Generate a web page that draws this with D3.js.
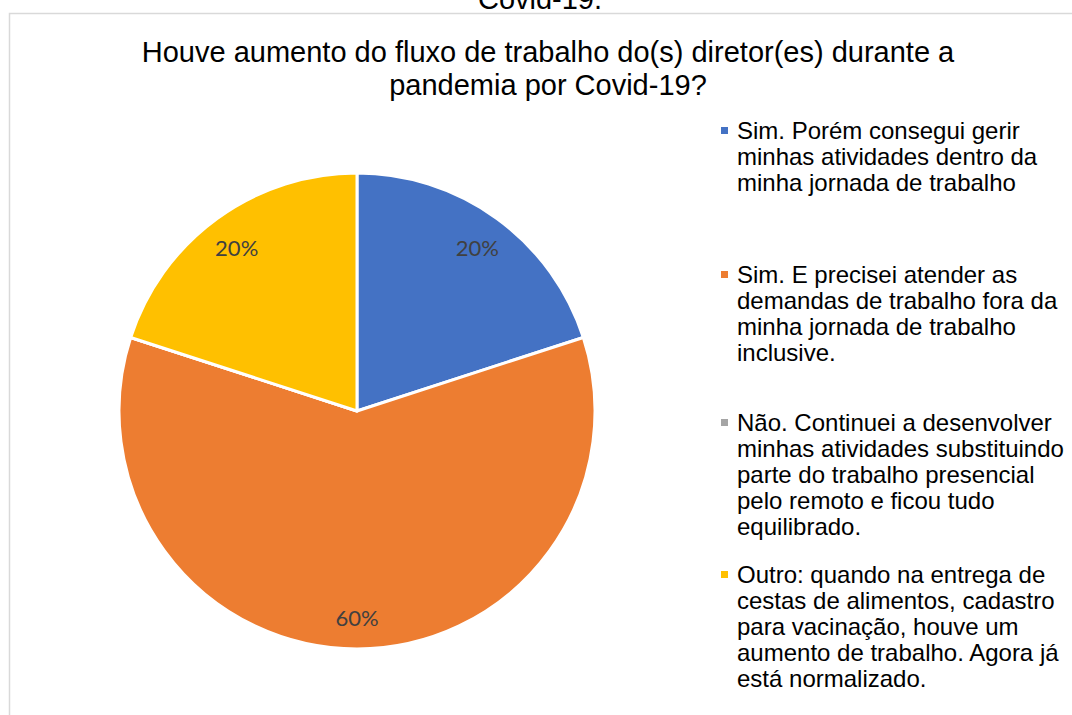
<!DOCTYPE html>
<html>
<head>
<meta charset="utf-8">
<script src="https://cdn.jsdelivr.net/npm/d3@7"></script>
<style>
  body { margin: 0; background: #fff; }
  svg { display: block; font-family: "Liberation Sans", Arial, sans-serif; }
</style>
</head>
<body>
<script>
//chart data
var categories = ["Sim. Porém consegui gerir", "Sim. E precisei atender", "Não. Continuei", "Outro"];
var values = [20, 60, 0, 20];
var colors = ["#4472C4", "#ED7D31", "#A5A5A5", "#FFC000"];
var legendLines = [
    ["Sim. Porém consegui gerir", "minhas atividades dentro da", "minha jornada de trabalho"],
    ["Sim. E precisei atender as", "demandas de trabalho fora da", "minha jornada de trabalho", "inclusive."],
    ["Não. Continuei a desenvolver", "minhas atividades substituindo", "parte do trabalho presencial", "pelo remoto e ficou tudo", "equilibrado."],
    ["Outro: quando na entrega de", "cestas de alimentos, cadastro", "para vacinação, houve um", "aumento de trabalho. Agora já", "está normalizado."]
];
var titleLines = ["Houve aumento do fluxo de trabalho do(s) diretor(es) durante a", "pandemia por Covid-19?"];

var width = 1072, height = 715;

var svg = d3.select("body")
    .append("svg")
    .attr("width", width)
    .attr("height", height);

//cut-off caption above the frame
svg.append("text")
    .attr("x", 540)
    .attr("y", 9)
    .attr("text-anchor", "middle")
    .style("font-size", "29px")
    .text("Covid-19.");

//chart frame
svg.append("rect")
    .attr("x", 9.5)
    .attr("y", 13.5)
    .attr("width", 1100)
    .attr("height", 750)
    .attr("fill", "#fff")
    .attr("stroke", "#d9d9d9")
    .attr("stroke-width", 1.5);

//title
svg.append("text")
    .attr("text-anchor", "middle")
    .style("font-size", "29px")
    .attr("fill", "#000")
    .selectAll("tspan")
    .data(titleLines)
    .enter()
    .append("tspan")
    .attr("x", 548)
    .attr("y", function(d, i){ return 62 + i * 33; })
    .text(function(d){ return d; });

//pie
var cx = 357, cy = 411, radius = 238;

var pie = d3.pie()
    .sort(null)
    .value(function(d){ return d; });

var arc = d3.arc()
    .innerRadius(0)
    .outerRadius(radius);

var labelArc = d3.arc()
    .innerRadius(radius * 0.86)
    .outerRadius(radius * 0.86);

var g = svg.append("g")
    .attr("transform", "translate(" + cx + "," + cy + ")");

var arcs = pie(values);

g.selectAll(".slice")
    .data(arcs)
    .enter()
    .append("path")
    .attr("class", "slice")
    .attr("d", arc)
    .attr("fill", function(d, i){ return colors[i]; })
    .attr("stroke", "#fff")
    .attr("stroke-width", 3)
    .attr("stroke-linejoin", "round");

g.selectAll(".label")
    .data(arcs.filter(function(d){ return d.data > 0; }))
    .enter()
    .append("text")
    .attr("class", "label")
    .attr("transform", function(d){
        var c = labelArc.centroid(d);
        return "translate(" + c[0] + "," + (c[1] + 3) + ")";
    })
    .attr("text-anchor", "middle")
    .attr("dy", "0.35em")
    .attr("fill", "#404040")
    .style("font-family", "Lato, 'Open Sans', sans-serif")
    .style("font-size", "22px")
    .text(function(d){ return d.data + "%"; });

//legend
var legendTops = [131, 275, 423, 575];
var legend = svg.selectAll(".legend")
    .data(legendLines)
    .enter()
    .append("g")
    .attr("class", "legend");

legend.append("rect")
    .attr("x", 721)
    .attr("y", function(d, i){ return legendTops[i] - 4; })
    .attr("width", 7)
    .attr("height", 7)
    .attr("fill", function(d, i){ return colors[i]; });

legend.append("text")
    .style("font-size", "24px")
    .attr("fill", "#000")
    .each(function(lines, i){
        d3.select(this).selectAll("tspan")
            .data(lines)
            .enter()
            .append("tspan")
            .attr("x", 737)
            .attr("y", function(d, j){ return legendTops[i] + 8 + j * 26; })
            .text(function(d){ return d; });
    });
</script>
</body>
</html>
